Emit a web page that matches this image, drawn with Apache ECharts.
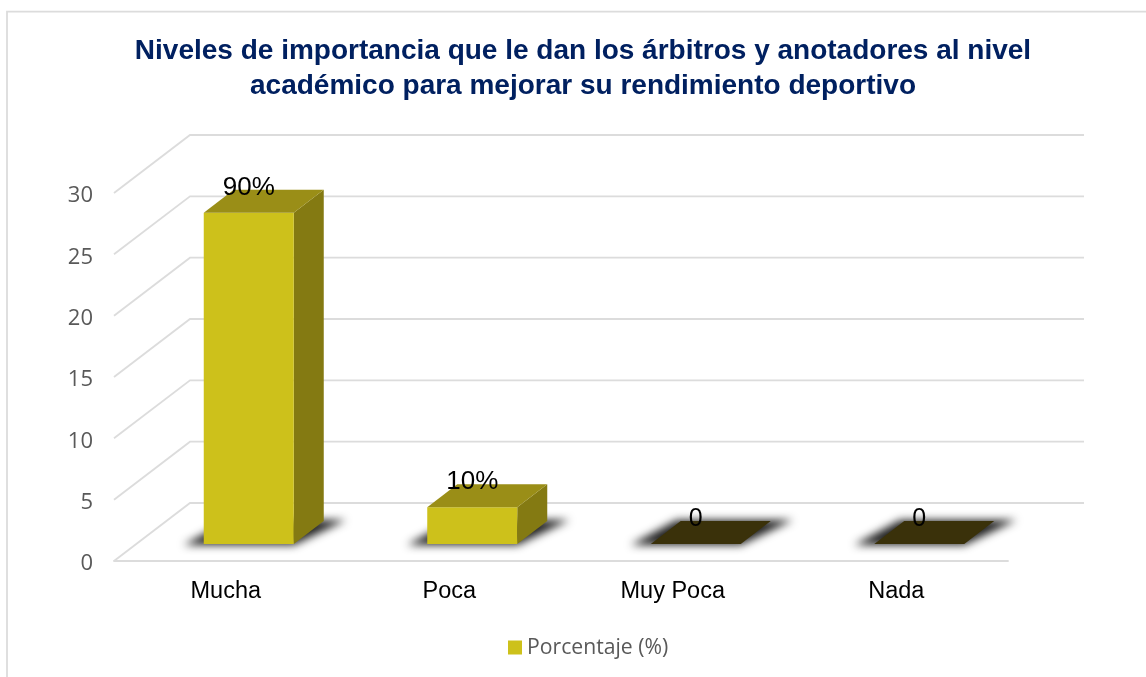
<!DOCTYPE html>
<html><head><meta charset="utf-8">
<style>html,body{margin:0;padding:0;background:#fff}#c{width:1146px;height:677px}</style>
<script src="https://cdn.jsdelivr.net/npm/echarts@6/dist/echarts.min.js"></script>
</head><body><div id="c"></div>
<script>
const titleText = 'Niveles de importancia que le dan los árbitros y anotadores al nivel\nacadémico para mejorar su rendimiento deportivo';
const categories = ['Mucha','Poca','Muy Poca','Nada'];
const values = [27,3,0,0];
const barLabels = ['90%','10%','0','0'];
const ticks = [0,5,10,15,20,25,30];
const seriesName = 'Porcentaje (%)';

const WALL_DX = 76, WALL_DY = -58;   // back wall offset
const BASE_DX = 23, BASE_DY = -17;   // bar front face offset
const BAR_W = 90, BAR_DX = 30, BAR_DY = -23;
const colFront = '#cdc11b', colTop = '#9a8e17', colSide = '#847a12', colFloor = '#3a310a';
const grid = {left:114, right:138, top:193, bottom:116};
const OFF = 3000;

const chart = echarts.init(document.getElementById('c'), null, {renderer:'canvas'});

function gridItem(params, api){
  const v = api.value(0);
  const p = api.coord([0, v]);
  const rect = params.coordSys;
  const x0 = rect.x, x1 = rect.x + rect.width, y = p[1];
  return {type:'polyline', silent:true,
    shape:{points:[[x0,y],[x0+WALL_DX,y+WALL_DY],[x1+WALL_DX,y+WALL_DY]]},
    style:{stroke:'#dcdcdc', lineWidth:1.8, fill:null}};
}

function barItem(params, api){
  const i = api.value(0), v = api.value(1);
  const base = api.coord([i,0]), top = api.coord([i,v]);
  const xl = base[0] + BASE_DX - BAR_W/2, xr = xl + BAR_W;
  const yb = base[1] + BASE_DY, yt = top[1] + BASE_DY;
  const poly = (pts, fill) => ({type:'polygon', shape:{points:pts}, style:{fill:fill}});
  const kids = [];
  // soft floor shadow: only the blurred shadow lands inside the view
  kids.push({type:'polygon', silent:true,
    shape:{points:[[xl-20-OFF,yb+1],[xr-OFF,yb+1],[xr+BAR_DX+22-OFF,yb+BAR_DY-1],[xl+BAR_DX-4-OFF,yb+BAR_DY-1]]},
    style:{fill:'#222', shadowBlur:9, shadowColor:'#222', shadowOffsetX:OFF}});
  if (v > 0) {
    kids.push(poly([[xr,yt],[xr+BAR_DX,yt+BAR_DY],[xr+BAR_DX,yb+BAR_DY],[xr,yb]], colSide));
    kids.push(poly([[xl,yt],[xr,yt],[xr,yb],[xl,yb]], colFront));
  }
  kids.push(poly([[xl,yt],[xr,yt],[xr+BAR_DX,yt+BAR_DY],[xl+BAR_DX,yt+BAR_DY]], v>0?colTop:colFloor));
  kids.push({type:'text', silent:true, z2:10, style:{
    text:barLabels[i], x:xl+BAR_W/2, y:yt+BAR_DY-2, align:'center', verticalAlign:'middle',
    fill:'#000', font:(v>0?'26px':'25px')+' "Liberation Sans"'}});
  return {type:'group', children:kids};
}

chart.setOption({
  animation:false,
  backgroundColor:'#fff',
  title:{text:titleText, left:578, textAlign:'center', top:29,
    textStyle:{color:'#002060', fontFamily:'Liberation Sans', fontWeight:'bold', fontSize:28, lineHeight:35}},
  legend:{data:[{name:seriesName, icon:'rect', itemStyle:{color:colFront}}], left:508, top:637,
    itemWidth:14, itemHeight:14, itemGap:7, padding:0,
    textStyle:{color:'#595959', fontFamily:'Open Sans', fontSize:21.2, padding:[4,0,0,0]}},
  grid:grid,
  xAxis:{type:'category', data:categories, axisTick:{show:false},
    axisLine:{show:true, lineStyle:{color:'#dcdcdc', width:1.8}},
    axisLabel:{color:'#000', fontFamily:'Liberation Sans', fontSize:23.5, margin:19}},
  yAxis:{type:'value', min:0, max:30, interval:5, splitLine:{show:false}, axisLine:{show:false}, axisTick:{show:false},
    axisLabel:{color:'#595959', fontFamily:'Open Sans', fontSize:22, margin:21, verticalAlign:'top', lineHeight:6}},
  series:[
    {type:'custom', name:'wall', silent:true, clip:false, z:1, renderItem:gridItem, data:ticks.map(t=>[t]), encode:{y:0}},
    {type:'custom', name:seriesName, clip:false, z:2, renderItem:barItem, itemStyle:{color:colFront},
      data:values.map((v,i)=>[i,v]), encode:{x:0,y:1}}
  ],
  graphic:[
    {type:'polyline', silent:true, shape:{points:[[1146,11.7],[7,11.7],[7,677]]}, style:{stroke:'#dcdcdc', lineWidth:1.8, fill:null}}
  ]
});
</script></body></html>
